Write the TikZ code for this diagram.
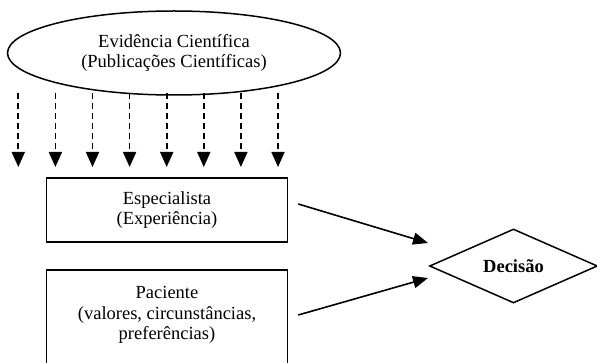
\documentclass[tikz,border=0pt]{standalone}
\usepackage{fontspec}
\setmainfont{Liberation Serif}
\usetikzlibrary{shapes.geometric,arrows.meta,calc}
\begin{document}
\begin{tikzpicture}[x=1pt,y=-1pt,
  every node/.style={font=\fontsize{18.5}{20.5}\selectfont},
  frame/.style={draw, line width=1.5pt, inner sep=0pt},
  dasharr/.style={line width=1.7pt, dash pattern=on 6pt off 4pt, -{Triangle[length=15pt,width=13pt]}},
  solidarr/.style={line width=1.6pt, -{Triangle[length=15pt,width=12pt]}}]
\useasboundingbox (0,0) rectangle (597,363);
\node[frame, ellipse, minimum width=333pt, minimum height=84pt, align=center] (ev) at (174,53)
  {Evidência Científica\\(Publicações Científicas)};
\node[frame, rectangle, minimum width=241pt, minimum height=64pt, align=center] (esp) at (167,210)
  {Especialista\\(Experiência)};
\node[frame, rectangle, minimum width=241pt, minimum height=110pt] (pac) at (167,325) {};
\node[align=center, inner sep=0pt] (pactxt) at (167,315)
  {Paciente\\(valores, circunstâncias,\\preferências)};
\node[frame, diamond, aspect=2.27, minimum width=168pt, minimum height=74pt] (dec) at (513.5,266)
  {\textbf{Decisão}};
\foreach \i/\x in {1/18.3,2/55.4,3/92.5,4/129.6,5/166.7,6/203.8,7/240.9,8/278} {
  \coordinate (a\i) at (\x,93);
  \coordinate (b\i) at (\x,167);
  \draw[dasharr] (a\i) -- (b\i);
}
\coordinate (s1) at ($(esp.east)+(10,-6)$);
\coordinate (s2) at ($(pac.east)+(10,-10)$);
\coordinate (t1) at (428,243);
\coordinate (t2) at (428,278);
\draw[solidarr] (s1) -- (t1);
\draw[solidarr] (s2) -- (t2);
\end{tikzpicture}
\end{document}
